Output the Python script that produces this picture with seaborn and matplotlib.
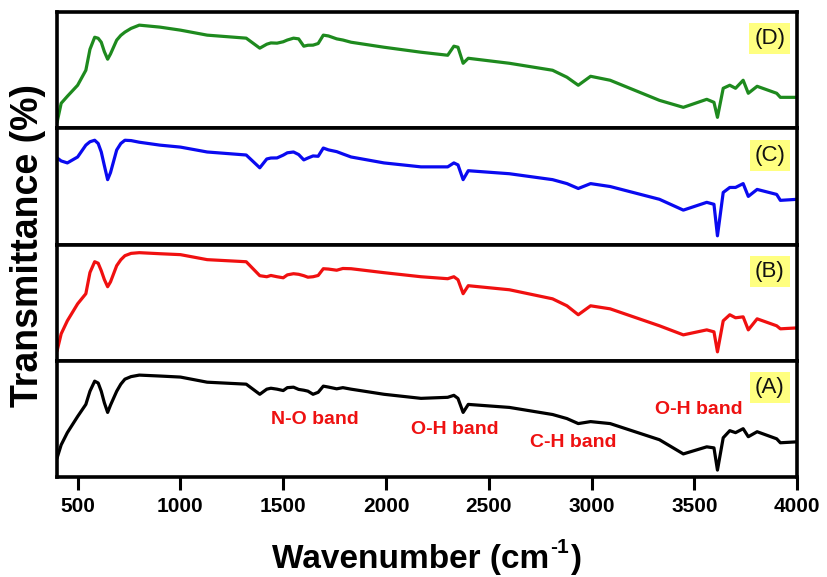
import matplotlib
matplotlib.use("Agg")
import matplotlib.pyplot as plt
import seaborn as sns
import pandas as pd

sns.set_theme(style="white")
plt.rcParams['font.family'] = ['Liberation Sans', 'DejaVu Sans']
for k in ['text.color', 'axes.labelcolor', 'xtick.color', 'ytick.color', 'axes.edgecolor']:
    plt.rcParams[k] = 'black'

wavenumber = [400, 420, 450, 500, 540, 560, 583, 600, 615, 630, 646, 660, 690, 710, 730, 760,
              800, 900, 1000, 1130, 1320,
              1386, 1420, 1440, 1470, 1500, 1520, 1550, 1575, 1600, 1620, 1645, 1670, 1695,
              1720, 1760, 1790, 1830, 1990, 2170, 2300, 2330, 2350, 2375, 2400, 2600, 2810,
              2880, 2935, 2995, 3090, 3330, 3446, 3560, 3595, 3612, 3640, 3672, 3700, 3737,
              3762, 3805, 3900, 3918, 4000]

trans_A = [0.165, 0.278, 0.383, 0.522, 0.626, 0.740, 0.826, 0.810, 0.739, 0.640, 0.557, 0.620,
           0.739, 0.800, 0.843, 0.865, 0.878, 0.870,
           0.861, 0.817, 0.800, 0.713, 0.757, 0.765, 0.757, 0.745, 0.770, 0.774, 0.755, 0.748,
           0.740, 0.713, 0.730, 0.783, 0.775, 0.760, 0.770, 0.757, 0.713, 0.678, 0.687, 0.704,
           0.678, 0.557, 0.626, 0.600, 0.539, 0.504, 0.461, 0.478, 0.461, 0.322, 0.200, 0.261,
           0.252, 0.061, 0.339, 0.400, 0.383, 0.417, 0.348, 0.391, 0.330, 0.296, 0.304]

trans_B = [0.086, 0.233, 0.345, 0.491, 0.578, 0.760, 0.853, 0.840, 0.776, 0.700, 0.638, 0.680,
           0.819, 0.870, 0.905, 0.925, 0.931, 0.922,
           0.914, 0.871, 0.853, 0.733, 0.724, 0.735, 0.724, 0.715, 0.740, 0.750, 0.745, 0.733,
           0.720, 0.724, 0.735, 0.793, 0.790, 0.780, 0.795, 0.793, 0.759, 0.724, 0.707, 0.724,
           0.698, 0.578, 0.647, 0.612, 0.534, 0.474, 0.397, 0.474, 0.448, 0.302, 0.224, 0.267,
           0.250, 0.078, 0.345, 0.397, 0.371, 0.379, 0.267, 0.362, 0.302, 0.276, 0.284]

trans_C = [0.746, 0.720, 0.703, 0.754, 0.856, 0.885, 0.898, 0.870, 0.797, 0.680, 0.559, 0.620,
           0.814, 0.870, 0.898, 0.895, 0.881, 0.856,
           0.839, 0.797, 0.771, 0.661, 0.737, 0.745, 0.746, 0.770, 0.790, 0.797, 0.775, 0.729,
           0.745, 0.763, 0.760, 0.831, 0.815, 0.800, 0.780, 0.754, 0.703, 0.669, 0.669, 0.703,
           0.686, 0.559, 0.636, 0.610, 0.559, 0.525, 0.483, 0.525, 0.500, 0.390, 0.297, 0.364,
           0.347, 0.076, 0.449, 0.492, 0.492, 0.525, 0.415, 0.475, 0.432, 0.381, 0.390]

trans_D = [0.052, 0.216, 0.276, 0.371, 0.500, 0.680, 0.784, 0.775, 0.741, 0.660, 0.595, 0.640,
           0.759, 0.800, 0.828, 0.860, 0.888, 0.871,
           0.845, 0.802, 0.776, 0.690, 0.724, 0.735, 0.733, 0.745, 0.760, 0.776, 0.770, 0.707,
           0.715, 0.716, 0.730, 0.802, 0.795, 0.770, 0.760, 0.741, 0.698, 0.655, 0.629, 0.707,
           0.698, 0.560, 0.603, 0.560, 0.500, 0.440, 0.371, 0.448, 0.414, 0.241, 0.181, 0.250,
           0.224, 0.095, 0.345, 0.371, 0.345, 0.414, 0.302, 0.362, 0.302, 0.267, 0.267]

panel_labels = ['(D)', '(C)', '(B)', '(A)']
series = [trans_D, trans_C, trans_B, trans_A]
colors = ['#1e8a1e', '#0a0af0', '#f01010', '#000000']

band_labels = ['N-O band', 'O-H band', 'C-H band', 'O-H band']
band_x = [1654, 2335, 2910, 3519]
band_y = [0.496, 0.409, 0.296, 0.583]

xticks = [500, 1000, 1500, 2000, 2500, 3000, 3500, 4000]

fig, axes = plt.subplots(4, 1, sharex=True, figsize=(8.27, 5.77), dpi=100)
fig.subplots_adjust(left=0.069, right=0.964, top=0.979, bottom=0.173, hspace=0)

for ax, vals, col, lab in zip(axes, series, colors, panel_labels):
    df = pd.DataFrame({'wavenumber': wavenumber, 'transmittance': vals})
    sns.lineplot(data=df, x='wavenumber', y='transmittance', ax=ax, color=col,
                 linewidth=2.3, estimator=None, sort=False, legend=False)
    ax.set_xlim(400, 4000)
    ax.set_ylim(0, 1)
    ax.set_yticks([])
    ax.set_xlabel('')
    ax.set_ylabel('')
    for s in ax.spines.values():
        s.set_linewidth(2.6)
        s.set_color('black')
    ax.text(0.963, 0.77, lab, transform=ax.transAxes, ha='center', va='center',
            fontsize=16, color='#111111',
            bbox=dict(boxstyle='square,pad=0.22', facecolor='#ffff80', edgecolor='none'))
    ax.tick_params(axis='x', which='both', length=0)

ax_a = axes[-1]
for t, x, y in zip(band_labels, band_x, band_y):
    ax_a.text(x, y, t, ha='center', va='center', fontsize=14, fontweight='bold',
              color='#ee1111')

ax_a.set_xticks(xticks)
ax_a.set_xticklabels([str(v) for v in xticks], fontweight='bold')
ax_a.tick_params(axis='x', which='major', direction='out', length=9, width=2.2,
                 labelsize=15, pad=5, bottom=True, color='black', labelcolor='black')

fig.text(0.034, 0.574, 'Transmittance (%)', rotation=90, ha='center', va='center',
         fontsize=27, fontweight='bold', color='black')

# x label assembled from pieces so the superscript keeps a plain hyphen
renderer = fig.canvas.get_renderer()
base_y = 1 - 568 / 577
t1 = fig.text(0, base_y, 'Wavenumber (cm', ha='left', va='baseline', fontsize=24,
              fontweight='bold', color='black')
t2 = fig.text(0, base_y + 0.026, '-1', ha='left', va='baseline', fontsize=15,
              fontweight='bold', color='black')
t3 = fig.text(0, base_y, ')', ha='left', va='baseline', fontsize=24,
              fontweight='bold', color='black')
W = fig.get_figwidth() * fig.dpi
w1 = t1.get_window_extent(renderer).width / W
w2 = t2.get_window_extent(renderer).width / W
w3 = t3.get_window_extent(renderer).width / W
total = w1 + w2 + w3 + 0.003
x0 = 0.516 - total / 2
t1.set_x(x0)
t2.set_x(x0 + w1 + 0.001)
t3.set_x(x0 + w1 + w2 + 0.003)

fig.savefig('out.png', dpi=100)
